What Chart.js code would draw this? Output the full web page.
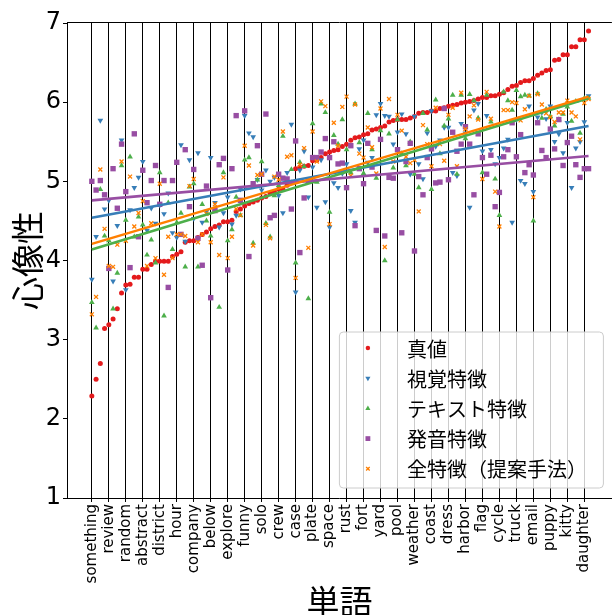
<!DOCTYPE html>
<html>
<head>
<meta charset="utf-8">
<script src="https://cdn.jsdelivr.net/npm/chart.js@4.4.1/dist/chart.umd.min.js"></script>
<style>
  html, body { margin: 0; padding: 0; background: #fff; }
  #wrap { width: 616px; height: 615px; }
</style>
</head>
<body>
<div id="wrap"><canvas id="chart" width="616" height="615"></canvas></div>
<script>
// words shown on the x axis (every 4th word, sorted by true imageability)
const tickWords = [
  "something", "review", "random", "abstract", "district", "hour", "company", "below",
  "explore", "funny", "solo", "crew", "case", "plate", "space", "rust", "fort", "yard",
  "pool", "weather", "coast", "dress", "harbor", "flag", "cycle", "truck", "email",
  "puppy", "kitty", "daughter"
];
const tickStep = 4;

const seriesNames = ["真値", "視覚特徴", "テキスト特徴", "発音特徴", "全特徴（提案手法）"];

// true imageability values
const trueValues = [
  2.29, 2.50, 2.70, 3.14, 3.19, 3.26, 3.39, 3.59, 3.69, 3.70,
  3.79, 3.79, 3.89, 3.89, 3.95, 3.99, 3.99, 3.99, 3.99, 4.05,
  4.08, 4.11, 4.23, 4.25, 4.25, 4.29, 4.33, 4.36, 4.40, 4.43,
  4.45, 4.49, 4.49, 4.51, 4.62, 4.65, 4.69, 4.72, 4.74, 4.76,
  4.79, 4.81, 4.85, 4.87, 4.90, 4.90, 4.95, 4.99, 5.16, 5.18,
  5.19, 5.20, 5.26, 5.27, 5.30, 5.35, 5.37, 5.39, 5.40, 5.44,
  5.47, 5.52, 5.55, 5.56, 5.59, 5.60, 5.65, 5.66, 5.68, 5.70,
  5.75, 5.77, 5.78, 5.78, 5.78, 5.80, 5.82, 5.86, 5.87, 5.87,
  5.89, 5.89, 5.92, 5.93, 5.95, 5.96, 5.97, 5.99, 6.00, 6.01,
  6.02, 6.04, 6.06, 6.06, 6.08, 6.08, 6.10, 6.12, 6.16, 6.20,
  6.21, 6.25, 6.27, 6.27, 6.30, 6.34, 6.37, 6.40, 6.41, 6.53,
  6.54, 6.60, 6.60, 6.70, 6.70, 6.79, 6.79, 6.90
];

// predictions from visual features
const visualPred = [
  3.76, 4.30, 5.77, 4.65, 4.76, 3.74, 4.44, 5.52, 3.63, 4.64,
  4.92, 5.05, 5.25, 4.38, 4.66, 4.47, 4.70, 4.59, 4.85, 4.35,
  4.29, 5.46, 4.24, 5.27, 4.53, 5.36, 4.48, 4.62, 5.30, 4.73,
  4.42, 4.60, 4.80, 4.46, 4.57, 4.90, 5.83, 5.61, 5.56, 5.02,
  4.89, 5.14, 5.00, 5.05, 4.82, 4.60, 5.11, 5.72, 3.60, 5.14,
  5.38, 4.80, 5.18, 4.67, 5.27, 4.74, 4.42, 4.98, 4.92, 5.10,
  5.22, 4.63, 4.48, 5.41, 5.52, 5.24, 5.30, 5.84, 5.98, 5.83,
  5.82, 5.47, 5.62, 5.85, 5.60, 5.09, 5.82, 5.22, 5.03, 5.61,
  5.89, 5.44, 5.52, 5.68, 5.68, 5.11, 5.07, 5.73, 5.61, 4.67,
  5.90, 5.98, 5.38, 5.83, 5.40, 5.22, 5.30, 5.42, 5.53, 4.48,
  5.78, 5.01, 4.97, 5.95, 4.87, 5.81, 5.87, 5.79, 5.95, 5.50,
  5.60, 5.36, 5.74, 4.92, 5.42, 5.50, 5.75, 6.08
];

// predictions from text features
const textPred = [
  3.47, 3.15, 4.90, 4.31, 4.25, 3.39, 3.84, 5.20, 4.51, 5.31,
  4.30, 4.55, 4.45, 4.07, 4.26, 3.97, 5.11, 3.30, 4.73, 4.14,
  4.48, 4.60, 3.92, 4.93, 4.97, 3.92, 4.71, 4.50, 4.31, 4.65,
  3.41, 5.11, 4.25, 4.39, 4.80, 4.57, 5.27, 5.30, 4.22, 5.02,
  5.25, 4.47, 4.30, 4.82, 4.95, 5.57, 5.00, 5.15, 3.97, 5.24,
  5.19, 3.52, 5.73, 4.99, 5.98, 5.87, 4.61, 5.58, 5.47, 5.78,
  5.40, 5.11, 5.98, 5.49, 5.10, 5.86, 5.40, 5.04, 5.64, 4.00,
  5.60, 5.17, 5.78, 5.35, 5.20, 5.50, 5.09, 4.92, 5.86, 5.65,
  4.90, 6.03, 5.35, 5.70, 5.79, 6.09, 5.09, 6.09, 5.54, 6.10,
  6.02, 5.80, 5.11, 6.09, 5.75, 5.03, 4.57, 6.13, 6.02, 5.90,
  6.15, 6.07, 6.09, 6.08, 4.50, 6.11, 5.80, 5.91, 5.82, 5.70,
  5.78, 5.85, 5.94, 5.76, 6.01, 5.61, 6.05, 6.05
];

// predictions from phonetic features
const phonePred = [
  5.00, 4.89, 5.01, 4.83, 3.90, 5.16, 4.66, 5.47, 4.87, 3.91,
  5.60, 4.30, 5.14, 4.73, 5.01, 5.20, 4.71, 5.01, 3.66, 5.01,
  5.24, 4.33, 5.40, 4.68, 5.15, 4.28, 3.94, 4.94, 3.53, 4.63,
  5.21, 5.29, 3.88, 5.16, 5.83, 4.76, 5.89, 4.05, 4.97, 5.45,
  5.09, 5.85, 4.54, 4.57, 5.09, 5.04, 5.03, 4.65, 5.51, 4.10,
  4.79, 5.00, 5.30, 5.30, 5.37, 5.54, 5.30, 5.50, 5.22, 5.23,
  4.92, 5.45, 4.44, 5.16, 4.97, 5.48, 5.18, 4.38, 5.53, 4.31,
  5.05, 5.04, 5.40, 4.35, 5.25, 5.48, 4.12, 5.06, 4.83, 5.30,
  5.41, 4.98, 4.99, 5.92, 5.02, 5.62, 5.38, 5.47, 5.69, 5.47,
  4.83, 5.60, 5.30, 5.09, 5.33, 4.68, 4.86, 5.31, 5.40, 5.74,
  5.31, 5.59, 5.11, 5.21, 5.08, 5.74, 5.39, 5.30, 5.66, 5.41,
  5.78, 5.20, 5.49, 5.57, 5.21, 5.05, 5.16, 5.16
];

// predictions from all features (proposed method)
const allPred = [
  3.32, 3.54, 5.15, 4.40, 3.93, 3.92, 4.20, 5.25, 4.25, 5.06,
  4.43, 4.60, 4.75, 3.93, 4.47, 4.03, 4.97, 3.82, 4.30, 4.03,
  4.33, 4.33, 4.31, 4.94, 5.03, 4.23, 4.33, 4.59, 4.23, 4.71,
  4.07, 5.05, 4.03, 4.30, 4.65, 4.57, 5.45, 5.20, 4.19, 5.08,
  5.09, 4.45, 4.28, 5.06, 5.02, 5.63, 5.31, 5.33, 3.78, 5.21,
  5.42, 4.16, 5.63, 5.25, 6.01, 5.95, 4.46, 5.74, 5.45, 5.94,
  6.07, 5.07, 5.97, 5.35, 5.30, 5.68, 5.43, 5.10, 5.92, 4.17,
  6.04, 5.25, 5.84, 5.64, 5.31, 5.23, 5.27, 4.62, 5.71, 5.47,
  5.19, 5.93, 5.47, 5.26, 5.84, 5.93, 5.19, 6.12, 5.66, 5.82,
  5.96, 5.78, 5.03, 6.13, 5.79, 4.87, 4.43, 5.90, 5.90, 6.00,
  5.99, 5.77, 5.91, 6.08, 4.80, 6.10, 5.97, 5.86, 5.81, 5.75,
  5.87, 5.87, 6.02, 5.87, 5.82, 5.53, 5.99, 6.04
];

// fitted trend lines (value at first word, value at last word): visual, text, phonetic, all
const fitStart = [4.54, 4.14, 4.76, 4.21];
const fitEnd = [5.70, 6.05, 5.32, 6.07];

const colors = ["#e41a1c", "#377eb8", "#4daf4a", "#984ea3", "#ff7f00"];
const markers = [
  { style: "circle", radius: 2.5, rotation: 0, border: 0 },
  { style: "triangle", radius: 3.3, rotation: 180, border: 0 },
  { style: "triangle", radius: 3.3, rotation: 0, border: 0 },
  { style: "rect", radius: 3.8, rotation: 0, border: 0 },
  { style: "crossRot", radius: 2.8, rotation: 0, border: 1.3 },
];

const seriesValues = [trueValues, visualPred, textPred, phonePred, allPred];
const lastIndex = trueValues.length - 1;

const pointSets = seriesValues.map((vals, k) => ({
  label: seriesNames[k],
  data: vals.map((v, i) => ({ x: i, y: v })),
  showLine: false,
  pointStyle: markers[k].style,
  pointRadius: markers[k].radius,
  pointHoverRadius: markers[k].radius,
  pointRotation: markers[k].rotation,
  pointBackgroundColor: colors[k],
  pointBorderColor: colors[k],
  pointBorderWidth: markers[k].border,
  order: 10 - k,
}));

const lineSets = fitStart.map((s, k) => ({
  label: "fit " + seriesNames[k + 1],
  data: [{ x: 0, y: s }, { x: lastIndex, y: fitEnd[k] }],
  showLine: true,
  borderColor: colors[k + 1],
  borderWidth: 2.6,
  pointRadius: 0,
  order: 4 - k,
}));

// top spine of the frame
const frameTop = {
  id: "frameTop",
  afterDatasetsDraw(chart) {
    const { ctx, chartArea: a } = chart;
    ctx.save();
    ctx.strokeStyle = "#000";
    ctx.lineWidth = 1;
    ctx.beginPath();
    ctx.moveTo(a.left, Math.round(a.top) - 0.5);
    ctx.lineTo(a.right, Math.round(a.top) - 0.5);
    ctx.stroke();
    ctx.restore();
  },
};

// legend box in the lower right corner of the plot
const legendBox = {
  id: "legendBox",
  afterDatasetsDraw(chart) {
    const { ctx, chartArea: a } = chart;
    const w = 264, h = 156;
    const left = a.right - 9 - w;
    const top = a.bottom - 10.5 - h;
    ctx.save();
    ctx.beginPath();
    ctx.roundRect(left + 0.5, top + 0.5, w, h, 4);
    ctx.fillStyle = "rgba(255,255,255,0.8)";
    ctx.fill();
    ctx.strokeStyle = "#cccccc";
    ctx.lineWidth = 1;
    ctx.stroke();
    ctx.font = '20px "Noto Sans CJK JP"';
    ctx.textBaseline = "middle";
    ctx.textAlign = "left";
    seriesNames.forEach((name, k) => {
      const y = top + 16.5 + k * 30.2;
      ctx.fillStyle = colors[k];
      ctx.strokeStyle = colors[k];
      ctx.lineWidth = markers[k].border || 1;
      Chart.helpers.drawPoint(ctx, {
        pointStyle: markers[k].style,
        radius: markers[k].radius * 0.9,
        rotation: markers[k].rotation,
        borderWidth: markers[k].border,
      }, left + 29, y);
      ctx.fillStyle = "#000";
      ctx.fillText(name, left + 68, y + 1);
    });
    ctx.restore();
  },
};

Chart.defaults.font.family = "'DejaVu Sans'";
Chart.defaults.color = "#000";

new Chart(document.getElementById("chart"), {
  type: "scatter",
  data: { datasets: [...pointSets, ...lineSets] },
  options: {
    responsive: false,
    animation: false,
    devicePixelRatio: 1,
    events: [],
    layout: { padding: { top: 23, left: 0, right: 0, bottom: 0 } },
    plugins: {
      legend: { display: false },
      tooltip: { enabled: false },
    },
    scales: {
      x: {
        type: "linear",
        min: -5.85,
        max: 122.5,
        afterBuildTicks: (scale) => {
          scale.ticks = tickWords.map((w, k) => ({ value: k * tickStep }));
        },
        afterFit: (scale) => { scale.height = 117; },
        ticks: {
          autoSkip: false,
          minRotation: 90,
          maxRotation: 90,
          padding: 2,
          font: { size: 15 },
          color: "#000",
          callback: (value) => tickWords[Math.round(value / tickStep)],
        },
        grid: { color: "#000", lineWidth: 1, drawTicks: true, tickLength: 4 },
        border: { color: "#000", width: 1 },
        title: {
          display: true,
          text: "単語",
          color: "#000",
          font: { size: 33, family: "'Noto Sans CJK JP'", lineHeight: 1 },
          padding: { top: 0, bottom: -2.5 },
        },
      },
      y: {
        min: 1,
        max: 7,
        afterFit: (scale) => { scale.width = 67; },
        ticks: { stepSize: 1, padding: 2, font: { size: 24 }, color: "#000" },
        grid: { drawOnChartArea: false, drawTicks: true, tickLength: 4, color: "#000" },
        border: { color: "#000", width: 1 },
        title: {
          display: true,
          text: "心像性",
          color: "#000",
          font: { size: 33, family: "'Noto Sans CJK JP'", lineHeight: 1 },
          padding: { top: 11, bottom: 0 },
        },
      },
    },
  },
  plugins: [frameTop, legendBox],
});
</script>
</body>
</html>
